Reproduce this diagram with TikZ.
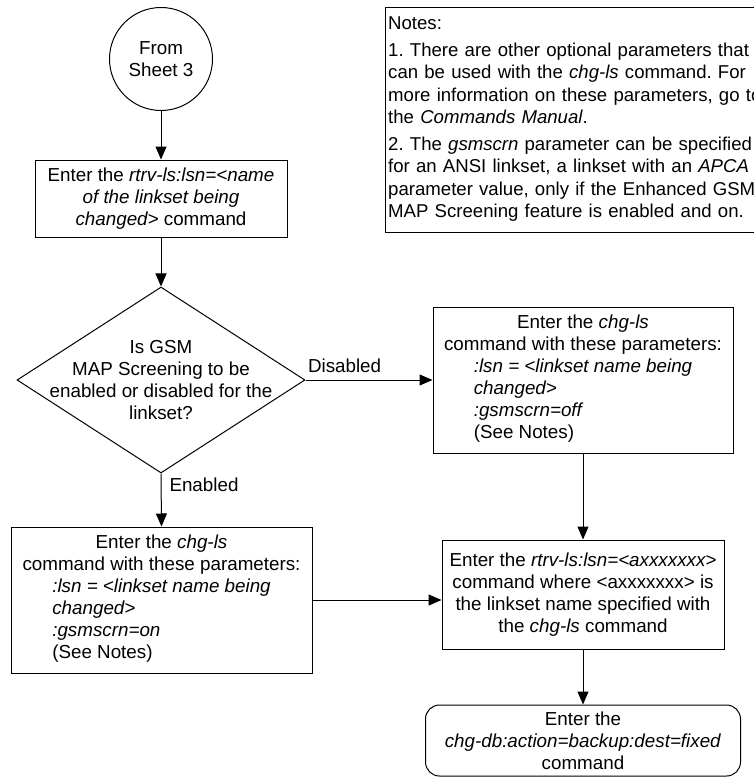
\documentclass[tikz,border=0pt]{standalone}
\usepackage{fontspec}
\setmainfont{Liberation Sans}
\frenchspacing
\usetikzlibrary{shapes.geometric, arrows.meta, positioning, calc}

\tikzset{
    flowline/.style={line width=1pt, -{Triangle[length=13pt,width=11pt]}},
    stepbox/.style={draw, line width=1pt, align=center, inner sep=0pt},
    endbox/.style={stepbox, rounded corners=14pt},
    connector/.style={draw, circle, line width=1pt, align=center, minimum size=103pt, inner sep=0pt},
    decision/.style={draw, diamond, line width=1pt, minimum width=288pt, minimum height=186pt, inner sep=0pt}
}

\begin{document}
\begin{tikzpicture}[x=1pt, y=-1pt, font=\fontsize{18.8}{22}\selectfont]
    \useasboundingbox (0,0) rectangle (754,781);
    \clip (0,0) rectangle (754,781);

    % Off-page connector
    \node[connector] (start) at (161,59) {From\\Sheet 3};

    % Retrieve the linkset
    \node[stepbox, minimum width=252pt, minimum height=77pt] (rtrv) at (161,198.5)
        {Enter the \textit{rtrv-ls:lsn=<name}\\\textit{of the linkset being}\\\textit{changed>} command};

    % Decision
    \node[decision, label={[align=center]center:Is GSM\\MAP Screening to be\\enabled or disabled for the\\linkset?}] (gsmq) at (161,380) {};

    % Disabled branch
    \node[stepbox, minimum width=300pt, minimum height=146pt] (chgoff) at (583,380)
        {Enter the \textit{chg-ls}\\command with these parameters:\\
         \begin{tabular}[t]{@{}l@{}}\textit{:lsn = <linkset name being}\\\textit{changed>}\\\textit{:gsmscrn=off}\\(See Notes)\end{tabular}};

    % Enabled branch
    \node[stepbox, minimum width=301pt, minimum height=146pt] (chgon) at (161.5,600)
        {Enter the \textit{chg-ls}\\command with these parameters:\\
         \begin{tabular}[t]{@{}l@{}}\textit{:lsn = <linkset name being}\\\textit{changed>}\\\textit{:gsmscrn=on}\\(See Notes)\end{tabular}};

    % Verify
    \node[stepbox, minimum width=282pt, minimum height=109pt] (verify) at (583,594.5)
        {Enter the \textit{rtrv-ls:lsn=<axxxxxxx>}\\command where <axxxxxxx> is\\the linkset name specified with\\the \textit{chg-ls} command};

    % Backup
    \node[endbox, minimum width=315pt, minimum height=71pt] (backup) at (583,740.5)
        {Enter the\\\textit{chg-db:action=backup:dest=fixed}\\command};

    % Notes
    \draw[line width=1pt] (385,8) rectangle (770,232);
    \node[anchor=north west, align=left, text width=380pt, inner sep=0pt, font=\fontsize{18.6}{22.4}\selectfont] (notes) at (388,16.5)
        {Notes:\\[4.5pt]
         1. There are other optional parameters that\\
         can be used with the \textit{chg-ls} command. For\\
         more information on these parameters, go to\\
         the \textit{Commands Manual}.\\[4.5pt]
         2. The \textit{gsmscrn} parameter can be specified\\
         for an ANSI linkset, a linkset with an \textit{APCA}\\
         parameter value, only if the Enhanced GSM\\
         MAP Screening feature is enabled and on.};

    % Connectors
    \draw[flowline] (start) -- (rtrv);
    \draw[flowline] (rtrv) -- (gsmq);
    \draw[flowline] (gsmq.east) -- node[anchor=south west, pos=0, inner xsep=2pt, inner ysep=7pt] {Disabled} (chgoff.west);
    \draw[flowline] (gsmq.south) -- node[anchor=north west, pos=0, inner xsep=8pt, inner ysep=4pt] {Enabled} (chgon.north);
    \draw[flowline] (chgoff) -- (verify);
    \draw[flowline] (chgon.east) -- (chgon.east -| verify.west);
    \draw[flowline] (verify) -- (backup);
\end{tikzpicture}
\end{document}
